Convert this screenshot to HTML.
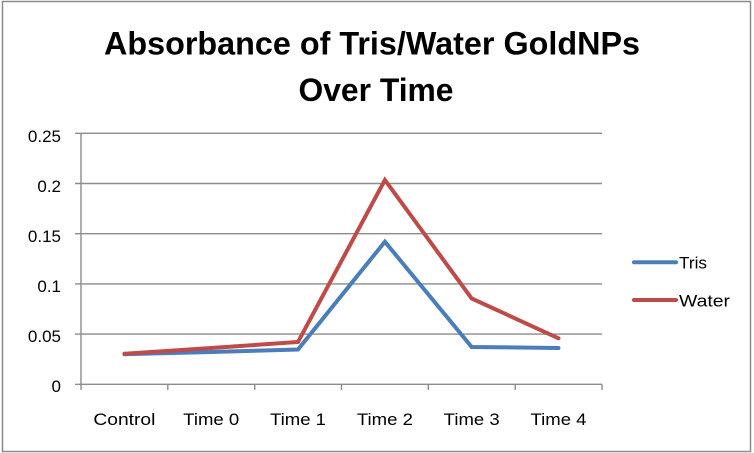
<!DOCTYPE html>
<html><head><meta charset="utf-8"><style>
html,body{margin:0;padding:0;background:#fff;}
svg{display:block;}
text{font-family:"Liberation Sans",sans-serif;fill:#000;}
</style></head><body>
<svg width="754" height="453" viewBox="0 0 754 453" xmlns="http://www.w3.org/2000/svg">
<rect x="0" y="0" width="754" height="453" fill="#fff"/>
<rect x="2.5" y="1.5" width="748" height="450" fill="none" stroke="#8a8a8a" stroke-width="1.5"/>
<text x="372" y="54.5" font-size="32" font-weight="bold" text-anchor="middle" textLength="536" lengthAdjust="spacingAndGlyphs">Absorbance of Tris/Water GoldNPs</text>
<text x="376" y="101" font-size="32" font-weight="bold" text-anchor="middle" textLength="155" lengthAdjust="spacingAndGlyphs">Over Time</text>
<g stroke="#8c8c8c" stroke-width="1.4" fill="none">
<line x1="75" y1="133.3" x2="602" y2="133.3"/>
<line x1="75" y1="183.5" x2="602" y2="183.5"/>
<line x1="75" y1="233.7" x2="602" y2="233.7"/>
<line x1="75" y1="283.9" x2="602" y2="283.9"/>
<line x1="75" y1="334.1" x2="602" y2="334.1"/>
<line x1="75" y1="384.3" x2="602" y2="384.3"/>
<line x1="81" y1="133.3" x2="81" y2="390"/>
<line x1="167.8" y1="384.3" x2="167.8" y2="390"/>
<line x1="254.7" y1="384.3" x2="254.7" y2="390"/>
<line x1="341.5" y1="384.3" x2="341.5" y2="390"/>
<line x1="428.3" y1="384.3" x2="428.3" y2="390"/>
<line x1="515.2" y1="384.3" x2="515.2" y2="390"/>
<line x1="602" y1="384.3" x2="602" y2="390"/>
</g>
<g font-size="17" text-anchor="end">
<text x="61" y="142">0.25</text>
<text x="61" y="192">0.2</text>
<text x="61" y="242">0.15</text>
<text x="61" y="292">0.1</text>
<text x="61" y="342">0.05</text>
<text x="61" y="392">0</text>
</g>
<g font-size="17" text-anchor="middle">
<text x="124.4" y="425" textLength="62" lengthAdjust="spacingAndGlyphs">Control</text>
<text x="211.2" y="425" textLength="56" lengthAdjust="spacingAndGlyphs">Time 0</text>
<text x="298" y="425" textLength="56" lengthAdjust="spacingAndGlyphs">Time 1</text>
<text x="384.9" y="425" textLength="56" lengthAdjust="spacingAndGlyphs">Time 2</text>
<text x="471.7" y="425" textLength="56" lengthAdjust="spacingAndGlyphs">Time 3</text>
<text x="558.5" y="425" textLength="56" lengthAdjust="spacingAndGlyphs">Time 4</text>
</g>
<polyline points="124.4,354.2 211.2,352 298,349.5 384.9,241.7 471.7,347 558.5,348" fill="none" stroke="#4a7ebb" stroke-width="4" stroke-linejoin="miter" stroke-linecap="round"/>
<polyline points="124.4,353.8 211.2,348 298,342 384.9,180 471.7,298.5 558.5,338.3" fill="none" stroke="#be4b48" stroke-width="4" stroke-linejoin="miter" stroke-linecap="round"/>
<line x1="634" y1="262.3" x2="676" y2="262.3" stroke="#4a7ebb" stroke-width="4" stroke-linecap="round"/>
<line x1="634" y1="300" x2="676" y2="300" stroke="#be4b48" stroke-width="4" stroke-linecap="round"/>
<g font-size="17">
<text x="679" y="268.5" textLength="28" lengthAdjust="spacingAndGlyphs">Tris</text>
<text x="679" y="306.5" textLength="51" lengthAdjust="spacingAndGlyphs">Water</text>
</g>
</svg>
</body></html>
